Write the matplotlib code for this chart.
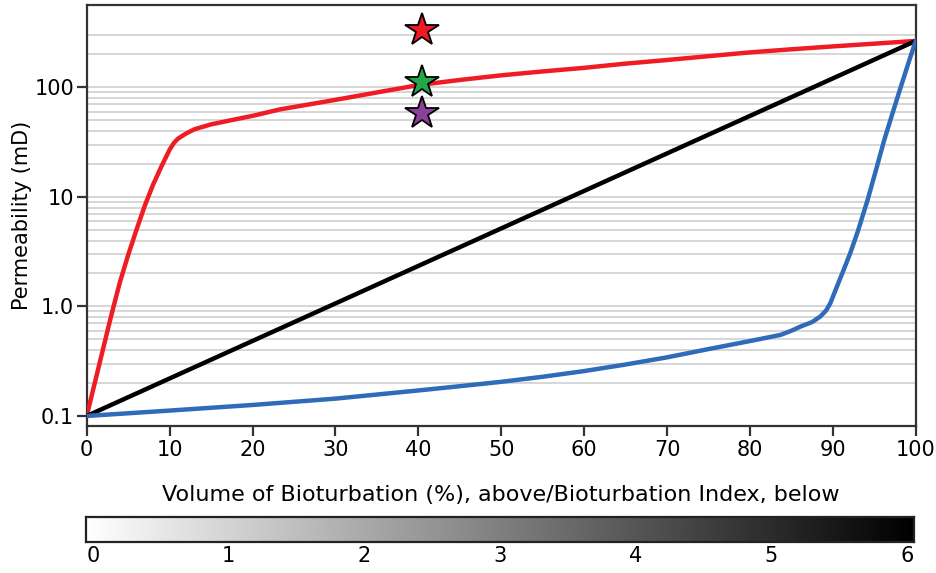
import matplotlib

matplotlib.use("Agg")
import matplotlib.pyplot as plt
import numpy as np

# values
red_x = [0, 1, 2, 3, 4, 5, 6, 7, 8, 9, 10, 10.5, 11, 11.5, 12, 13, 15, 17.3, 20, 23.3, 30, 35, 40, 45, 50, 55, 60, 65, 70, 75, 80, 85, 90, 95, 100]
red_y = [0.1, 0.204, 0.417, 0.85, 1.66, 2.95, 5.0, 8.3, 12.9, 18.9, 27, 31, 34, 36, 38, 41.5, 46, 50, 55, 63, 77, 90, 105, 117, 129, 140, 151, 165, 178, 193, 209, 223, 237, 251, 266]

black_x = [0, 100]
black_y = [0.1, 266]

blue_x = [0, 10, 20, 30, 40, 45, 50, 55, 60, 65, 70, 75, 80, 83.7, 85, 86.1, 87.5, 88.5, 89.2, 89.7, 90.5, 91.3, 92.1, 93, 94.2, 95.2, 96.2, 97.2, 98.2, 99.1, 100]
blue_y = [0.1, 0.112, 0.126, 0.144, 0.171, 0.187, 0.205, 0.228, 0.257, 0.295, 0.343, 0.408, 0.483, 0.55, 0.6, 0.655, 0.72, 0.81, 0.92, 1.07, 1.52, 2.15, 3.06, 4.8, 9.4, 17.5, 33, 58, 101, 165, 266]

star_x = [40.5, 40.5, 40.5]
star_y = [335, 111, 58]
star_colors = ["#ed1c24", "#22a84a", "#8b3f98"]

x_ticks = [0, 10, 20, 30, 40, 50, 60, 70, 80, 90, 100]
y_ticks = [0.1, 1.0, 10, 100]
y_tick_labels = ["0.1", "1.0", "10", "100"]
grid_levels = [m * 10.0 ** e for e in (-1, 0, 1) for m in range(2, 11)] + [200, 300]

index_ticks = [0, 1, 2, 3, 4, 5, 6]

plt.rcParams.update(
    {
        "font.family": "DejaVu Sans",
        "font.size": 14,
        "axes.linewidth": 1.6,
        "axes.edgecolor": "#333333",
    }
)

W, H = 937, 573
fig = plt.figure(figsize=(W / 100, H / 100), dpi=100)
ax = fig.add_axes([86.7 / W, 1 - 425.7 / H, (915.7 - 86.7) / W, (425.7 - 5) / H])

for g in grid_levels:
    ax.axhline(g, color="#cccccc", linewidth=1.1, zorder=1)

ax.plot(red_x, red_y, color="#ee1c24", linewidth=3.2, solid_capstyle="round", solid_joinstyle="round", zorder=3)
ax.plot(black_x, black_y, color="black", linewidth=3.2, solid_capstyle="round", zorder=3)
ax.plot(blue_x, blue_y, color="#2f6bb8", linewidth=3.2, solid_capstyle="round", solid_joinstyle="round", zorder=3)

for sx, sy, sc in zip(star_x, star_y, star_colors):
    ax.plot(sx, sy, marker="*", markersize=25, markerfacecolor=sc, markeredgecolor="black", markeredgewidth=1.3, linestyle="none", zorder=5, clip_on=False)

ax.set_yscale("log")
ax.set_xlim(0, 100)
ax.set_ylim(0.0815, 566)
ax.set_xticks(x_ticks)
ax.set_xticklabels([str(v) for v in x_ticks])
ax.set_yticks(y_ticks)
ax.set_yticklabels(y_tick_labels)
ax.yaxis.set_minor_locator(matplotlib.ticker.NullLocator())
ax.tick_params(axis="both", direction="out", length=7, width=1.6, color="#333333", labelsize=15)
ax.tick_params(axis="y", pad=2)
ax.set_ylabel("Permeability (mD)", fontsize=15, labelpad=2)

fig.text(0.5 * (86.7 + 915.7) / W, 1 - 495 / H, "Volume of Bioturbation (%), above/Bioturbation Index, below", ha="center", va="center", fontsize=16)

cax = fig.add_axes([86 / W, 1 - 542.3 / H, 828 / W, 25 / H])
gradient = np.linspace(0, 1, 512).reshape(1, -1)
cax.imshow(gradient, cmap="gray_r", aspect="auto", extent=(-0.05, 6.05, 0, 1))
cax.set_xlim(-0.05, 6.05)
cax.set_yticks([])
cax.set_xticks(index_ticks)
cax.set_xticklabels([str(v) for v in index_ticks])
cax.tick_params(axis="x", length=0, labelsize=15, pad=3)
for s in cax.spines.values():
    s.set_color("#222222")
    s.set_linewidth(1.6)

fig.savefig("out.png", dpi=100)
